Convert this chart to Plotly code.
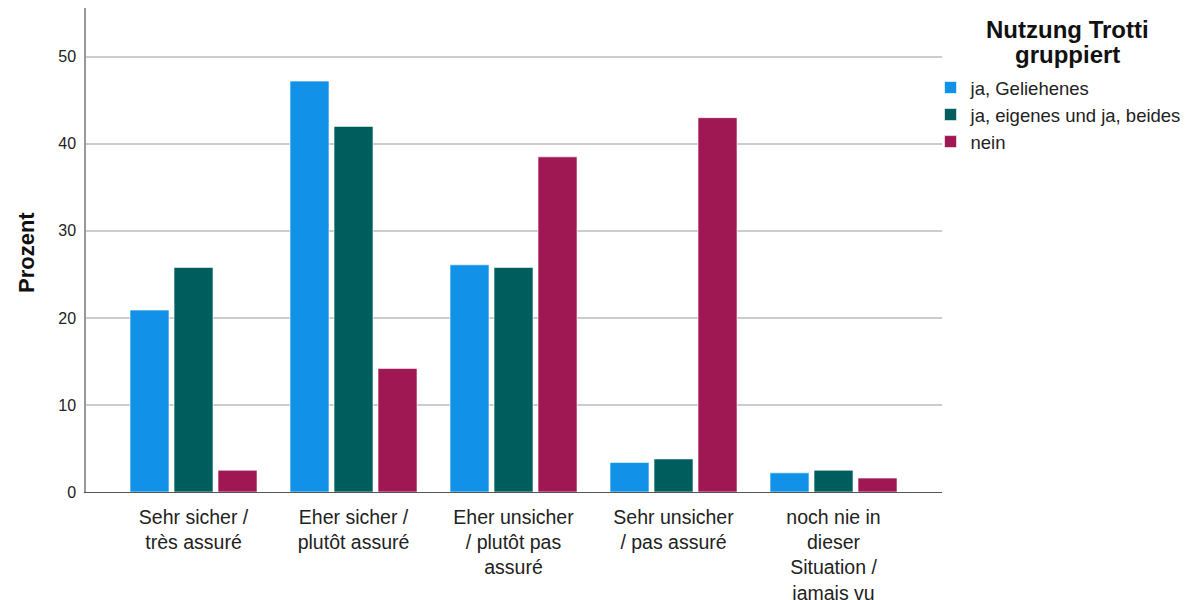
import plotly.graph_objects as go

categories = [
    "Sehr sicher /<br>très assuré",
    "Eher sicher /<br>plutôt assuré",
    "Eher unsicher<br>/ plutôt pas<br>assuré",
    "Sehr unsicher<br>/ pas assuré",
    "noch nie in<br>dieser<br>Situation /<br>jamais vu",
]
series_names = ["ja, Geliehenes", "ja, eigenes und ja, beides", "nein"]
vals_geliehen = [20.9, 47.2, 26.1, 3.4, 2.2]
vals_eigenes = [25.8, 42.0, 25.8, 3.8, 2.5]
vals_nein = [2.5, 14.2, 38.5, 43.0, 1.6]
colors = ["#1192e8", "#005d5d", "#9f1853"]
y_ticks = [0, 10, 20, 30, 40, 50]

FONT = "Liberation Sans, Arial, sans-serif"

fig = go.Figure()
for name, vals, col in zip(series_names, [vals_geliehen, vals_eigenes, vals_nein], colors):
    fig.add_trace(go.Bar(
        x=categories, y=vals, name=name,
        marker=dict(color=col, line=dict(color="rgba(255,255,255,0.6)", width=1)),
    ))

fig.update_layout(
    width=1192, height=600,
    margin=dict(l=78, r=258, t=0, b=116),
    paper_bgcolor="white", plot_bgcolor="white",
    font=dict(family=FONT, color="#222222"),
    barmode="group", bargap=0.175, bargroupgap=0.114,
    showlegend=True,
    legend=dict(
        x=0.9866, xanchor="left", y=0.874, yanchor="top",
        font=dict(size=18.5, color="#222222"),
        itemwidth=30, tracegroupgap=0, traceorder="normal",
        bgcolor="rgba(0,0,0,0)",
    ),
    xaxis=dict(
        automargin=False,
        range=[-0.672, 4.678],
        showline=True, linecolor="#555555", linewidth=1.2,
        ticks="", tickfont=dict(size=19.5, color="#222222"), ticklabelstandoff=7,
        showgrid=False,
    ),
    yaxis=dict(
        automargin=False,
        range=[0, 55.6], tickvals=y_ticks, ticktext=[str(v) for v in y_ticks],
        showgrid=True, gridcolor="#cccccc", gridwidth=1.5,
        showline=True, linecolor="#999999", linewidth=1.5,
        ticks="", tickfont=dict(size=16, color="#222222"), ticklabelstandoff=5,
        zeroline=False,
    ),
    annotations=[
        dict(text="<b>Prozent</b>", textangle=-90, xref="paper", yref="paper",
             x=(26 - 86) / 856, y=(492 - 253) / 484, xanchor="center", yanchor="middle",
             showarrow=False, font=dict(size=22, color="#111111", family=FONT)),
        dict(text="<b>Nutzung Trotti</b>", xref="paper", yref="paper",
             x=(1067 - 86) / 856, y=(492 - 30) / 484, xanchor="center", yanchor="middle",
             showarrow=False, font=dict(size=24, color="#111111", family=FONT)),
        dict(text="<b>gruppiert</b>", xref="paper", yref="paper",
             x=(1067 - 86) / 856, y=(492 - 54) / 484, xanchor="center", yanchor="middle",
             showarrow=False, font=dict(size=24, color="#111111", family=FONT)),
    ],
)

fig.write_html("out.html")
